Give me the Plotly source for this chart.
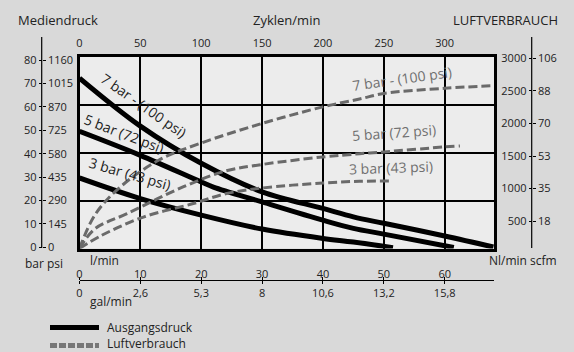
import plotly.graph_objects as go

W, H = 574, 352

# Ausgangsdruck (bar) vs flow (l/min)
p7_flow = [0, 10, 20, 30, 40, 45, 50, 60, 68]
p7_bar = [71, 51, 35.5, 23.6, 16.7, 13.2, 10.5, 5.2, 0.6]
p5_flow = [0, 10, 20, 22, 30, 40, 45, 50, 61.5]
p5_bar = [48.8, 38.8, 27.7, 25.6, 19.4, 11.8, 8.4, 6.0, 0.4]
p3_flow = [0, 10, 20, 30, 40, 45, 51.5]
p3_bar = [29.4, 20.8, 13.9, 8.1, 4.2, 2.7, 0.3]

# Luftverbrauch (Nl/min) vs flow (l/min)
a7_flow = [0, 2.5, 6.4, 13, 20, 30, 40, 46, 50, 60, 68]
a7_nl = [80, 590, 1000, 1435, 1700, 2000, 2255, 2375, 2460, 2540, 2580]
a5_flow = [0, 2.5, 7.8, 17, 24, 30, 40, 46, 50, 60, 62.5]
a5_nl = [80, 380, 615, 1025, 1270, 1370, 1486, 1535, 1563, 1640, 1655]
a3_flow = [0, 3.6, 10.5, 18.7, 24, 30, 40, 46, 51.5]
a3_nl = [80, 280, 563, 770, 920, 1009, 1086, 1112, 1115]

# axis labels
bar_ticks = [0, 10, 20, 30, 40, 50, 60, 70, 80]
psi_labels = ["0", "145", "290", "435", "580", "725", "870", "1015", "1160"]
nl_ticks = [500, 1000, 1500, 2000, 2500, 3000]
scfm_labels = ["18", "35", "53", "70", "88", "106"]
cycle_ticks = [0, 50, 100, 150, 200, 250, 300]
lmin_ticks = [0, 10, 20, 30, 40, 50, 60]
gal_labels = ["0", "2,6", "5,3", "8", "10,6", "13,2", "15,8"]

FONT = "Open Sans"
TXT = "#222222"
GRAY = "#6a6a6a"
NONE = "rgba(0,0,0,0)"


def px(x):
    return x / W


def py(y):
    return 1 - y / H


fig = go.Figure()

for fx, fy in [(p7_flow, p7_bar), (p5_flow, p5_bar), (p3_flow, p3_bar)]:
    fig.add_trace(go.Scatter(x=fx, y=fy, mode="lines", line=dict(color="black", width=5, shape="spline"),
                             showlegend=False, hoverinfo="skip"))
for fx, fy in [(a7_flow, a7_nl), (a5_flow, a5_nl), (a3_flow, a3_nl)]:
    fig.add_trace(go.Scatter(x=fx, y=fy, yaxis="y2", mode="lines",
                             line=dict(color=GRAY, width=3, dash="9px,4px", shape="spline"),
                             showlegend=False, hoverinfo="skip"))

# empty traces so every helper axis is drawn
for xa, ya in [("x2", "y"), ("x3", "y"), ("x4", "y"), ("x", "y3"), ("x", "y4"), ("x", "y5")]:
    fig.add_trace(go.Scatter(x=[None], y=[None], xaxis=xa, yaxis=ya, showlegend=False, hoverinfo="skip"))

xdom = [px(79.5), px(494)]
ydom = [py(248.5), py(56.5)]
xr = [0, 68.1]
tf = dict(family=FONT, size=11, color=TXT)

fig.update_layout(
    width=W, height=H,
    margin=dict(l=0, r=0, t=0, b=0, autoexpand=False),
    paper_bgcolor="#d9d9d9",
    plot_bgcolor="#ececec",
    font=dict(family=FONT, color=TXT),
    xaxis=dict(domain=xdom, range=xr, showgrid=True, tickvals=lmin_ticks, gridcolor="black", gridwidth=2,
               showticklabels=False, ticks="", showline=True, linecolor="black", linewidth=3, mirror=True,
               zeroline=False),
    yaxis=dict(domain=ydom, range=[0, 80], showgrid=True, tickvals=[20, 40, 60], gridcolor="black",
               gridwidth=2, showticklabels=False, ticks="", showline=True, linecolor="black", linewidth=3,
               mirror=True, zeroline=False),
    yaxis2=dict(overlaying="y", anchor="free", position=px(531.7), side="left", range=[80, 3028],
                tickvals=nl_ticks, ticks="outside", ticklen=3, tickcolor="black", showgrid=False,
                zeroline=False, showline=False, tickfont=tf),
    yaxis5=dict(overlaying="y", anchor="free", position=px(531.7), side="right", range=[80, 3028],
                tickvals=nl_ticks, ticktext=scfm_labels, ticks="outside", ticklen=3, tickcolor="black",
                showgrid=False, zeroline=False, showline=False, tickfont=tf),
    yaxis3=dict(overlaying="y", anchor="free", position=px(41.7), side="left", range=[-0.5, 81.5],
                tickvals=bar_ticks, ticks="outside", ticklen=3, tickcolor="black", showgrid=False,
                zeroline=False, showline=False, tickfont=tf),
    yaxis4=dict(overlaying="y", anchor="free", position=px(41.7), side="right", range=[-0.5, 81.5],
                tickvals=bar_ticks, ticktext=psi_labels, ticks="outside", ticklen=3, tickcolor="black",
                showgrid=False, zeroline=False, showline=False, tickfont=tf),
    xaxis2=dict(overlaying="x", anchor="y", side="top", range=[xr[0] * 5, xr[1] * 5], tickvals=cycle_ticks,
                ticks="outside", ticklen=4, tickcolor=NONE, showgrid=False, zeroline=False, showline=False,
                tickfont=tf),
    xaxis3=dict(overlaying="x", anchor="free", position=py(280), side="top", range=xr, tickvals=lmin_ticks,
                ticks="outside", ticklen=3, tickcolor="black", ticklabelstandoff=-5, showgrid=False,
                zeroline=False, showline=True, linecolor="black", linewidth=1.2, tickfont=tf),
    xaxis4=dict(overlaying="x", anchor="free", position=py(280), side="bottom", range=xr, tickvals=lmin_ticks,
                ticktext=gal_labels, ticks="outside", ticklen=3, tickcolor="black", showgrid=False,
                zeroline=False, showline=False, tickfont=tf),
)

# scale spines
for sx in [41.7, 531.7]:
    fig.add_shape(type="line", xref="paper", yref="paper", x0=px(sx), x1=px(sx), y0=py(37), y1=py(248),
                  line=dict(color="black", width=1.2))

# legend
fig.add_shape(type="line", xref="paper", yref="paper", x0=px(50), x1=px(99), y0=py(327.5), y1=py(327.5),
              line=dict(color="black", width=5))
fig.add_shape(type="line", xref="paper", yref="paper", x0=px(50), x1=px(99), y0=py(345.5), y1=py(345.5),
              line=dict(color="#777777", width=5, dash="7px,2px"))


def note(text, x, y, size=12, color=TXT, xanchor="center", angle=0):
    fig.add_annotation(text=text, x=px(x), y=py(y), xref="paper", yref="paper", showarrow=False,
                       xanchor=xanchor, yanchor="middle", textangle=angle,
                       font=dict(family=FONT, size=size, color=color))


note("Mediendruck", 16, 20, 13, xanchor="left")
note("Zyklen/min", 286, 20, 13)
note("LUFTVERBRAUCH", 560, 20, 13, xanchor="right")
note("bar psi", 44, 263, 12)
note("l/min", 88, 260.5, 12, xanchor="left")
note("gal/min", 88, 301.5, 12, xanchor="left")
note("Nl/min scfm", 523, 260.5, 12)
note("Ausgangsdruck", 105, 327, 12, xanchor="left")
note("Luftverbrauch", 105, 343.5, 12, xanchor="left")

note("7 bar - (100 psi)", 144, 105, 14, angle=35)
note("5 bar (72 psi)", 124, 134, 14, angle=21)
note("3 bar (43 psi)", 129.5, 173.5, 14, angle=16)
note("7 bar - (100 psi)", 402, 79, 14, color="#707070", angle=-8)
note("5 bar (72 psi)", 393.5, 132, 14, color="#707070", angle=-4)
note("3 bar (43 psi)", 391, 167.5, 14, color="#707070", angle=-2)

fig.write_html("out.html", config={"displayModeBar": False},
               post_script="document.body.style.margin='0';")
